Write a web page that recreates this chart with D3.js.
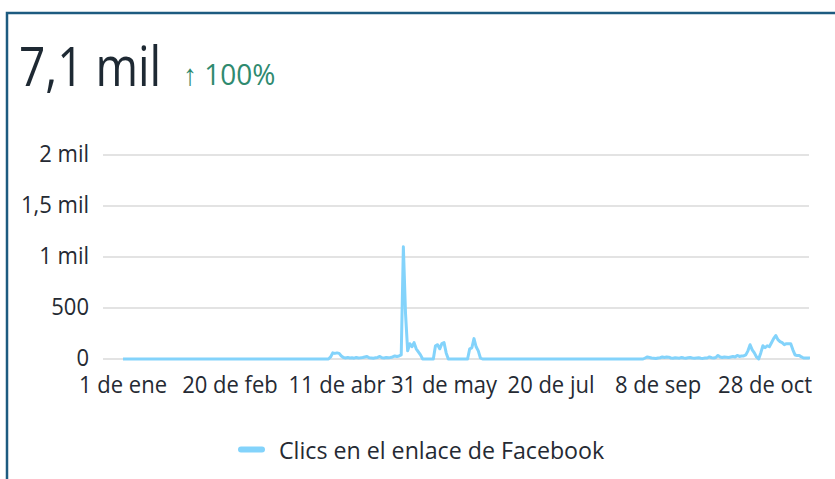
<!DOCTYPE html>
<meta charset="utf-8">
<style>
    body {
        margin: 0;
        background: #fff;
    }

    svg {
        font-family: "Open Sans", sans-serif;
        display: block;
    }

    .grid line {
        stroke: #e3e3e3;
        stroke-width: 2;
        shape-rendering: crispEdges;
    }

    .tick-label {
        fill: #252a33;
        font-size: 22px;
    }

    .legend-label {
        fill: #252a33;
        font-size: 23.2px;
    }
</style>

<body>
    <script src="https://cdn.jsdelivr.net/npm/d3@7"></script>
    <script>
        // daily clicks, from 1 de ene (one array per month)
        var startDay = new Date(2023, 0, 1);
        var jan = [0,0,0,0,0,0,0,0,0,0, 0,0,0,0,0,0,0,0,0,0, 0,0,0,0,0,0,0,0,0,0, 0];
        var feb = [0,0,0,0,0,0,0,0,0,0, 0,0,0,0,0,0,0,0,0,0, 0,0,0,0,0,0,0,0];
        var mar = [0,0,0,0,0,0,0,0,0,0, 0,0,0,0,0,0,0,0,0,0, 0,0,0,0,0,0,0,0,0,0, 0];
        var apr = [0,0,0,0,0,0,0,20,60,55, 60,55,30,15,10,15,10,12,8,15, 10,12,15,20,25,12,10,8,12,15];
        var may = [25,12,10,15,12,15,20,30,25,30, 40,1100,450,80,150,120,160,100,70,40, 0,0,0,0,0,0,130,140,100,150, 160];
        var jun = [60,0,0,0,0,0,0,0,0,0, 0,100,110,200,120,80,10,0,0,0, 0,0,0,0,0,0,0,0,0,0];
        var jul = [0,0,0,0,0,0,0,0,0,0, 0,0,0,0,0,0,0,0,0,0, 0,0,0,0,0,0,0,0,0,0, 0];
        var aug = [0,0,0,0,0,0,0,0,0,0, 0,0,0,0,0,0,0,0,0,0, 0,0,0,0,0,0,0,0,0,0, 0];
        var sep = [0,10,20,15,10,8,5,10,12,20, 15,20,18,10,8,12,10,8,15,10, 8,12,15,10,8,10,12,8,6,10];
        var oct = [10,20,12,10,15,35,20,15,20,18, 15,20,25,20,35,25,30,30,40,80, 140,90,60,20,0,60,130,110,130,120, 160];
        var nov = [200,230,190,170,160,140,150,150,150,90, 40,35,35,20,10,10,10,10];

        var yTicks = [0, 500, 1000, 1500, 2000];
        var yTickLabels = ["0", "500", "1 mil", "1,5 mil", "2 mil"];
        var xTickDates = ["2023-01-01", "2023-02-20", "2023-04-11", "2023-05-31", "2023-07-20", "2023-09-08", "2023-10-28"];
        var xTickLabels = ["1 de ene", "20 de feb", "11 de abr", "31 de may", "20 de jul", "8 de sep", "28 de oct"];

        var seriesName = "Clics en el enlace de Facebook";
        var total = "7,1 mil";
        var change = "\u2191 100%";

        var values = [].concat(jan, feb, mar, apr, may, jun, jul, aug, sep, oct, nov);
        var data = values.map(function(v, i) {
            return { date: d3.timeDay.offset(startDay, i), value: v };
        });

        var width = 835,
            height = 479;

        var svg = d3.select("body").append("svg")
            .attr("width", width)
            .attr("height", height);

        // card border (top + left)
        svg.append("path")
            .attr("d", "M7,479V13H835")
            .attr("fill", "none")
            .attr("stroke", "#1d5b80")
            .attr("stroke-width", 2.5);

        // text in the card is drawn a bit tall, so allow a vertical stretch
        function label(x, y, txt, stretch) {
            return svg.append("text")
                .attr("transform", "translate(" + x + "," + y + ") scale(1," + (stretch || 1) + ")")
                .text(txt);
        }

        label(19, 86, total, 1.18)
            .attr("font-size", 46)
            .attr("fill", "#1e2933");

        label(183, 85, change, 1.05)
            .attr("font-size", 28)
            .attr("fill", "#2f8a6f");

        var x = d3.scaleTime()
            .domain(d3.extent(data, d => d.date))
            .range([123, 810]);

        var y = d3.scaleLinear()
            .domain([0, 2000])
            .range([359, 155]);

        // gridlines
        svg.append("g")
            .attr("class", "grid")
            .selectAll("line")
            .data(yTicks)
            .enter().append("line")
            .attr("x1", 103)
            .attr("x2", 809)
            .attr("y1", d => y(d))
            .attr("y2", d => y(d));

        yTicks.forEach(function(t, i) {
            label(89, y(t) + 7, yTickLabels[i], 1.05)
                .attr("class", "tick-label")
                .attr("text-anchor", "end");
        });

        var parse = d3.timeParse("%Y-%m-%d");
        xTickDates.forEach(function(d, i) {
            label(x(parse(d)), 393, xTickLabels[i], 1.05)
                .attr("class", "tick-label")
                .attr("text-anchor", "middle");
        });

        var line = d3.line()
            .x(d => x(d.date))
            .y(d => y(d.value));

        svg.append("path")
            .datum(data)
            .attr("fill", "none")
            .attr("stroke", "#83d3fb")
            .attr("stroke-width", 3)
            .attr("stroke-linejoin", "round")
            .attr("d", line);

        // legend
        svg.append("line")
            .attr("x1", 241)
            .attr("x2", 262)
            .attr("y1", 449.5)
            .attr("y2", 449.5)
            .attr("stroke", "#83d3fb")
            .attr("stroke-width", 6)
            .attr("stroke-linecap", "round");

        label(279, 459, seriesName, 1.05)
            .attr("class", "legend-label");
    </script>
</body>

</html>
